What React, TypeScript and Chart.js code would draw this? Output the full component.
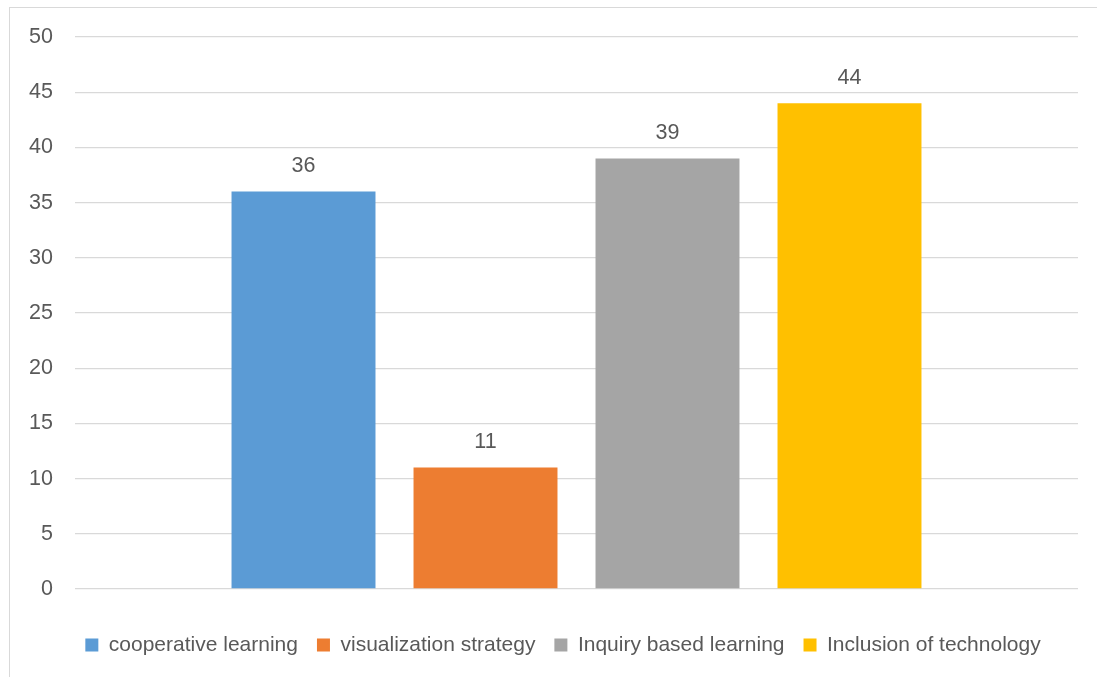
import React, { useEffect, useRef } from "react";
import { Chart, registerables } from "chart.js";

Chart.register(...registerables);

const categories = [""];
const seriesNames = [
  "cooperative learning",
  "visualization strategy",
  "Inquiry based learning",
  "Inclusion of technology",
];
const seriesValues = [36, 11, 39, 44];
const seriesColors = ["#5B9BD5", "#ED7D31", "#A5A5A5", "#FFC000"];
const yMin = 0;
const yMax = 50;
const yStep = 5;

const FONT = "'Liberation Sans', Arial, sans-serif";
const TEXT = "#595959";

const dataLabels = {
  id: "dataLabels",
  afterDatasetsDraw(chart: any) {
    const ctx = chart.ctx;
    ctx.save();
    ctx.font = `21.5px ${FONT}`;
    ctx.fillStyle = TEXT;
    ctx.textAlign = "center";
    ctx.textBaseline = "middle";
    chart.data.datasets.forEach((ds: any, i: number) => {
      const meta = chart.getDatasetMeta(i);
      meta.data.forEach((el: any, j: number) => {
        ctx.fillText(String(ds.data[j]), el.x, el.y - 25);
      });
    });
    ctx.restore();
  },
};

const legendShift = {
  id: "legendShift",
  afterLayout(chart: any) {
    const lg = chart.legend;
    if (lg) {
      lg.left += 14;
      lg.right += 14;
    }
  },
};

export default function App() {
  const ref = useRef<HTMLCanvasElement | null>(null);
  useEffect(() => {
    if (!ref.current) return;
    const chart = new Chart(ref.current, {
      type: "bar",
      data: {
        labels: categories,
        datasets: seriesNames.map((name, i) => ({
          label: name,
          data: [seriesValues[i]],
          backgroundColor: seriesColors[i],
          borderWidth: 0,
          categoryPercentage: 0.7258,
          barPercentage: 0.791,
        })),
      },
      options: {
        animation: false,
        responsive: true,
        maintainAspectRatio: false,
        layout: { padding: { left: 20, right: 19, top: 37, bottom: 11.5 } },
        plugins: {
          legend: {
            position: "bottom",
            labels: {
              boxWidth: 13,
              boxHeight: 13,
              padding: 19,
              color: TEXT,
              font: { family: FONT, size: 21 },
            },
          },
          tooltip: { enabled: false },
        },
        scales: {
          x: {
            display: true,
            grid: { display: false },
            border: { display: false },
            ticks: { display: false },
            afterFit: (s: any) => {
              s.height = 26.5;
            },
          },
          y: {
            min: yMin,
            max: yMax,
            ticks: {
              stepSize: yStep,
              padding: 22,
              color: TEXT,
              font: { family: FONT, size: 21.5 },
            },
            grid: { color: "#D9D9D9", lineWidth: 1.3, drawTicks: false },
            border: { display: false },
            afterFit: (s: any) => {
              s.width = 55;
            },
          },
        },
      },
      plugins: [dataLabels, legendShift],
    });
    return () => chart.destroy();
  }, []);

  return (
    <div style={{ position: "absolute", left: 0, top: 0, width: 1097, height: 677, background: "#fff" }}>
      <div
        style={{
          position: "absolute",
          left: 9,
          top: 7,
          width: 1100,
          height: 680,
          border: "1.3px solid #D9D9D9",
          boxSizing: "border-box",
        }}
      />
      <div style={{ position: "absolute", left: 0, top: 0, width: 1097, height: 677 }}>
        <canvas ref={ref} />
      </div>
    </div>
  );
}
